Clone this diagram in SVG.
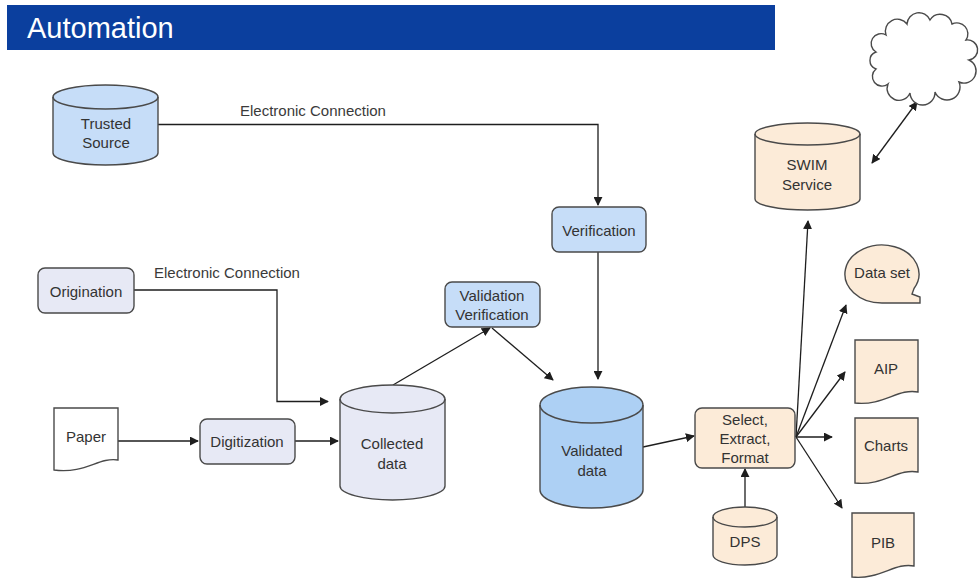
<svg xmlns="http://www.w3.org/2000/svg" width="980" height="579" viewBox="0 0 980 579">
  <style>
    text { font-family: "Liberation Sans", Arial, sans-serif; font-size: 15px; fill: #333; text-anchor: middle; }
    .lbl { text-anchor: start; fill: #3a3a3a; }
    .title { font-size: 29px; fill: #fff; text-anchor: start; }
    .shape { stroke: #4a4a4a; stroke-width: 1.4; }
    .blue { fill: #c6ddf8; }
    .deep { fill: #add0f4; }
    .grey { fill: #e7e9f5; }
    .beige { fill: #fcebd8; }
    .white { fill: #ffffff; }
    .conn path, .conn line { fill: none; stroke: #1e1e1e; stroke-width: 1.3; }
  </style>
  <defs>
    <marker id="arrow" viewBox="0 0 10 10" refX="9" refY="5" markerWidth="9" markerHeight="9" markerUnits="userSpaceOnUse" orient="auto-start-reverse">
      <path d="M0,0 L10,5 L0,10 Z" fill="#1e1e1e"/>
    </marker>
  </defs>

  <rect width="980" height="579" fill="#ffffff"/>

  <!-- title bar -->
  <g id="title">
    <rect x="7" y="5" width="768" height="45" fill="#0b3f9e"/>
    <text class="title" x="27" y="38">Automation</text>
  </g>

  <!-- connectors -->
  <g class="conn">
    <path d="M158,124.5 H598 V205" marker-end="url(#arrow)"/>
    <path d="M598,252 V379" marker-end="url(#arrow)"/>
    <path d="M134,290 H277 V401.5 H328" marker-end="url(#arrow)"/>
    <path d="M118,441 H198" marker-end="url(#arrow)"/>
    <path d="M295,441 H338" marker-end="url(#arrow)"/>
    <path d="M393,385 L490,328" marker-end="url(#arrow)"/>
    <path d="M492,328 L553,380" marker-end="url(#arrow)"/>
    <path d="M643,447 L694,436" marker-end="url(#arrow)"/>
    <path d="M745,507 V469" marker-end="url(#arrow)"/>
    <path d="M796,437 L808,221" marker-end="url(#arrow)"/>
    <path d="M796,437 L846,305" marker-end="url(#arrow)"/>
    <path d="M796,437 L845,372" marker-end="url(#arrow)"/>
    <path d="M796,437 L832,437" marker-end="url(#arrow)"/>
    <path d="M796,437 L842,508" marker-end="url(#arrow)"/>
    <path d="M872,163 L917,102" marker-start="url(#arrow)" marker-end="url(#arrow)"/>
    <text class="lbl" x="240" y="116">Electronic Connection</text>
    <text class="lbl" x="154" y="278">Electronic Connection</text>
  </g>

  <!-- Trusted Source -->
  <g id="trusted-source">
    <path class="shape blue" d="M53,97 A52.5,12 0 0 1 158,97 V153 A52.5,12 0 0 1 53,153 Z"/>
    <path class="shape" fill="none" d="M53,97 A52.5,12 0 0 0 158,97"/>
    <text x="106" y="129">Trusted</text>
    <text x="106" y="148">Source</text>
  </g>

  <!-- Verification -->
  <g id="verification">
    <rect class="shape blue" x="552" y="207" width="94" height="45" rx="7"/>
    <text x="599" y="236">Verification</text>
  </g>

  <!-- Origination -->
  <g id="origination">
    <rect class="shape grey" x="38" y="268" width="96" height="45" rx="7"/>
    <text x="86" y="297">Origination</text>
  </g>

  <!-- Paper -->
  <g id="paper">
    <path class="shape white" d="M54,408 H118 V460 C98,457 86,474 54,470 Z"/>
    <text x="86" y="442">Paper</text>
  </g>

  <!-- Digitization -->
  <g id="digitization">
    <rect class="shape grey" x="200" y="419" width="95" height="45" rx="7"/>
    <text x="247" y="447">Digitization</text>
  </g>

  <!-- Collected data -->
  <g id="collected-data">
    <path class="shape grey" d="M340,399 A52.5,14 0 0 1 445,399 V486 A52.5,14 0 0 1 340,486 Z"/>
    <path class="shape" fill="none" d="M340,399 A52.5,14 0 0 0 445,399"/>
    <text x="392" y="449">Collected</text>
    <text x="392" y="469">data</text>
  </g>

  <!-- Validation Verification -->
  <g id="validation-verification">
    <rect class="shape blue" x="445" y="282" width="95" height="45" rx="7"/>
    <text x="492" y="301">Validation</text>
    <text x="492" y="320">Verification</text>
  </g>

  <!-- Validated data -->
  <g id="validated-data">
    <path class="shape deep" d="M540,405 A51.5,18 0 0 1 643,405 V490 A51.5,18 0 0 1 540,490 Z"/>
    <path class="shape" fill="none" d="M540,405 A51.5,18 0 0 0 643,405"/>
    <text x="592" y="456">Validated</text>
    <text x="592" y="476">data</text>
  </g>

  <!-- Select, Extract, Format -->
  <g id="select-extract-format">
    <rect class="shape beige" x="695" y="408" width="100" height="60" rx="7"/>
    <text x="745" y="425">Select,</text>
    <text x="745" y="444">Extract,</text>
    <text x="745" y="463">Format</text>
  </g>

  <!-- DPS -->
  <g id="dps">
    <path class="shape beige" d="M713,517 A32,10 0 0 1 777,517 V555 A32,10 0 0 1 713,555 Z"/>
    <path class="shape" fill="none" d="M713,517 A32,10 0 0 0 777,517"/>
    <text x="745" y="547">DPS</text>
  </g>

  <!-- SWIM Service -->
  <g id="swim-service">
    <path class="shape beige" d="M755,134 A52.5,11 0 0 1 860,134 V199 A52.5,11 0 0 1 755,199 Z"/>
    <path class="shape" fill="none" d="M755,134 A52.5,11 0 0 0 860,134"/>
    <text x="807" y="170">SWIM</text>
    <text x="807" y="190">Service</text>
  </g>

  <!-- Cloud -->
  <g id="cloud">
    <path class="shape white" d="M876,52 A9,9 0 0 1 886,35 A12,12 0 0 1 907,24 A12,12 0 0 1 930,20 A12,12 0 0 1 952,24 A11,11 0 0 1 966,40 A9,9 0 0 1 969,60 A11,11 0 0 1 959,82 A12,12 0 0 1 935,92 A12,12 0 0 1 910,93 A11,11 0 0 1 888,84 A9,9 0 0 1 876,69 A9,9 0 0 1 876,52 Z"/>
  </g>

  <!-- Data set -->
  <g id="data-set">
    <path class="shape beige" d="M882,303 A37,29 0 1 1 914,288.5 L912,294 L920,297 L920,303 Z"/>
    <text x="882" y="278">Data set</text>
  </g>

  <!-- AIP -->
  <g id="aip">
    <path class="shape beige" d="M855,340 H918 V392 C898,388 884,406 855,403 Z"/>
    <text x="886" y="374">AIP</text>
  </g>

  <!-- Charts -->
  <g id="charts">
    <path class="shape beige" d="M855,418 H918 V472 C898,468 884,486 855,483 Z"/>
    <text x="886" y="451">Charts</text>
  </g>

  <!-- PIB -->
  <g id="pib">
    <path class="shape beige" d="M852,513 H914 V566 C895,562 880,580 852,577 Z"/>
    <text x="883" y="548">PIB</text>
  </g>
</svg>
